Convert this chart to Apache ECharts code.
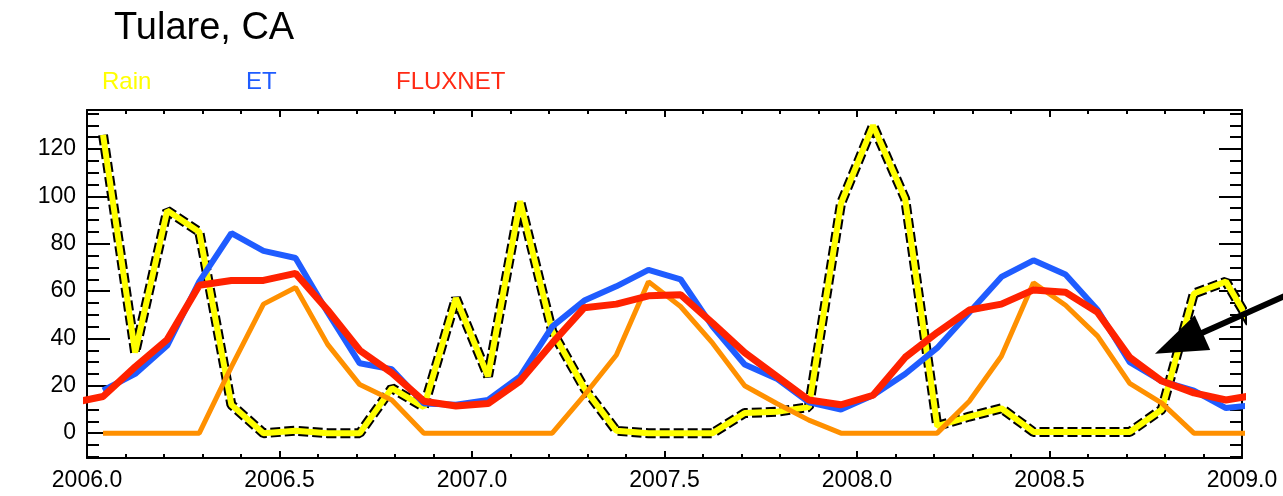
<!DOCTYPE html>
<html>
<head>
<meta charset="utf-8">
<script src="https://cdn.jsdelivr.net/npm/echarts@6/dist/echarts.min.js"></script>
<style>
  html, body { margin: 0; padding: 0; background: #fff; }
  #chart { width: 1283px; height: 496px; }
</style>
</head>
<body>
<div id="chart"></div>
<script>
// Monthly values, mid-month, from Dec 2005 through Jan 2009.
// The first and last entries sit just outside the 2006-2009 window and are clipped.
const firstMonth = -1; // Dec 2005, counted from Jan 2006

const rain = [null, 126, 34, 94, 85, 12, 0, 1, 0, 0, 19, 11, 57, 24, 98, 43, 19, 1, 0, 0, 0,
              8.5, 9, 11, 97, 130, 99, 3, 7, 10.5, 0.5, 0.5, 0.5, 0.5, 10, 59, 64, 41];
const et = [null, 18, 25, 37, 64, 84.5, 77, 74, 51, 29.5, 27, 12.5, 12, 14, 24, 45, 56, 62, 69, 65,
            45, 29, 23, 13, 10, 16, 25, 36, 51, 66, 73, 67, 52, 30, 22, 18, 10.6, 12];
const fluxnet = [12.7, 15.5, 28, 39.5, 62.5, 64.5, 64.5, 67.5, 52, 35, 25.5, 13.5, 11.5, 12.5, 22,
                 38, 53, 54.5, 58, 58.5, 46.5, 34, 24, 14, 12, 16, 32, 42.5, 52, 54.5, 60.5,
                 59.5, 51, 32, 22, 17, 14, 16.3];
const unlabeled = [null, 0, 0, 0, 0, 28, 54.5, 61.5, 37.5, 20.5, 14, 0, 0, 0, 0, 0, 16, 33, 64,
                   53.5, 38, 20, 12.5, 5.5, 0, 0, 0, 0, 13.5, 32.5, 63.5, 54, 41, 21, 12.7, 0, 0, 0];

const yTickLabels = [0, 20, 40, 60, 80, 100, 120];
const yMinorTicks = [-10, -5, 0, 5, 10, 15, 20, 25, 30, 35, 40, 45, 50, 55, 60, 65,
                     70, 75, 80, 85, 90, 95, 100, 105, 110, 115, 120, 125, 130, 135];
const xRange = [2006, 2009];
const yRange = [-10.5, 136.5];

const legendItems = [
  { name: 'Rain',    color: '#ffff00', left: 97 },
  { name: 'ET',      color: '#1f5cff', left: 241 },
  { name: 'FLUXNET', color: '#ff2a14', left: 391 }
];

const FONT = 'Liberation Sans';

function pairs(arr) {
  return arr.map((v, i) => [xRange[0] + (i + firstMonth + 0.5) / 12, v]);
}

const black = '#000';
const tickStyle = { color: black, width: 2 };

function xAxisDef(position, showLabels) {
  return {
    type: 'value', position, min: xRange[0], max: xRange[1], interval: 0.5,
    axisLine: { show: true, onZero: false, lineStyle: { color: black, width: 2 } },
    axisTick: { show: true, inside: true, length: 7, lineStyle: tickStyle },
    minorTick: { show: true, splitNumber: 5, length: 4, lineStyle: tickStyle },
    axisLabel: {
      show: showLabels, margin: 11, color: black, fontFamily: FONT, fontSize: 23,
      formatter: v => v.toFixed(1)
    },
    splitLine: { show: false }, minorSplitLine: { show: false }
  };
}

function yAxisDef(position, ticks, len, showLine, showLabels) {
  return {
    type: 'value', position, offset: 0, min: yRange[0], max: yRange[1],
    axisLine: { show: showLine, onZero: false, lineStyle: { color: black, width: 2 } },
    axisTick: { show: true, inside: true, length: len, customValues: ticks, lineStyle: tickStyle },
    axisLabel: {
      show: showLabels, customValues: yTickLabels, margin: 11, color: black,
      fontFamily: FONT, fontSize: 23
    },
    splitLine: { show: false }
  };
}

const chart = echarts.init(document.getElementById('chart'), null, { renderer: 'canvas' });

const option = {
  animation: false,
  backgroundColor: '#fff',
  title: {
    text: 'Tulare, CA', left: 114, top: 10, padding: 0,
    textStyle: { fontFamily: FONT, fontSize: 38, fontWeight: 'normal', color: black }
  },
  legend: legendItems.map(it => ({
    data: [{ name: it.name, icon: 'none', textStyle: { color: it.color } }],
    left: it.left, top: 70, padding: 0, itemWidth: 0, itemHeight: 0,
    selectedMode: true,
    textStyle: { fontFamily: FONT, fontSize: 24, color: it.color }
  })),
  grid: { left: 87, right: 41, top: 110, bottom: 38 },
  xAxis: [xAxisDef('bottom', true), xAxisDef('top', false)],
  yAxis: [
    yAxisDef('left', yTickLabels, 23, true, true),
    yAxisDef('left', yMinorTicks, 12, false, false),
    yAxisDef('right', yTickLabels, 23, true, false),
    yAxisDef('right', yMinorTicks, 12, false, false)
  ],
  series: [
    {
      name: 'Rain', type: 'line', data: pairs(rain), symbol: 'none', clip: true, z: 2,
      lineStyle: { color: black, width: 10, type: [10, 4] }
    },
    {
      name: 'Rain', type: 'line', data: pairs(rain), symbol: 'none', clip: true, z: 3,
      lineStyle: { color: '#ffff00', width: 6 }
    },
    {
      name: 'unlabeled', type: 'line', data: pairs(unlabeled), symbol: 'none', clip: true, z: 4,
      lineStyle: { color: '#ff9000', width: 5 }
    },
    {
      name: 'ET', type: 'line', data: pairs(et), symbol: 'none', clip: true, z: 5,
      lineStyle: { color: '#1f5cff', width: 6 }
    },
    {
      name: 'FLUXNET', type: 'line', data: pairs(fluxnet), symbol: 'none', clip: true, z: 6,
      lineStyle: { color: '#ff2200', width: 7 }
    }
  ]
};

chart.setOption(option);

// Pointer arrow towards the FLUXNET / ET recession in late 2008
const tip = chart.convertToPixel({ gridIndex: 0 }, [2008.774, 33.5]);
const tail = chart.convertToPixel({ gridIndex: 0 }, [2009.106, 57.6]);
const dx = tail[0] - tip[0], dy = tail[1] - tip[1];
const L = Math.hypot(dx, dy), ux = dx / L, uy = dy / L;
const headLen = 52, headHalf = 19;
const bx = tip[0] + ux * headLen, by = tip[1] + uy * headLen;
chart.setOption({
  graphic: [
    {
      type: 'line', z: 100,
      shape: { x1: bx - ux * 2, y1: by - uy * 2, x2: tail[0] + ux * 5, y2: tail[1] + uy * 5 },
      style: { stroke: black, lineWidth: 6 }
    },
    {
      type: 'polygon', z: 100,
      shape: { points: [tip, [bx - uy * headHalf, by + ux * headHalf], [bx + uy * headHalf, by - ux * headHalf]] },
      style: { fill: black }
    }
  ]
});
</script>
</body>
</html>
